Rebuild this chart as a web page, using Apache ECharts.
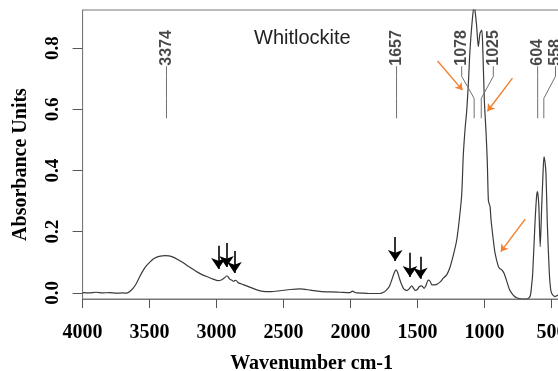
<!DOCTYPE html>
<html>
<head>
<meta charset="utf-8">
<script src="https://cdn.jsdelivr.net/npm/echarts@6/dist/echarts.min.js"></script>
<style>
  html, body { margin: 0; padding: 0; background: #fff; }
  #chart { width: 558px; height: 371px; }
</style>
</head>
<body>
<div id="chart"></div>
<script>
// FTIR absorbance spectrum of whitlockite
const wavenumbers = [
  4000, 3950, 3900, 3850, 3800, 3750, 3700, 3674, 3650, 3624, 3600, 3574, 3550, 3525, 3500,
  3475, 3450, 3420, 3387, 3355, 3325, 3290, 3251, 3215, 3176, 3140, 3101, 3060, 3027, 2988,
  2965, 2945, 2922, 2910, 2902, 2885, 2872, 2860, 2853, 2840, 2833, 2800, 2753, 2700, 2654,
  2600, 2527, 2450, 2378, 2300, 2229, 2150, 2080, 2005, 1985, 1970, 1954, 1900, 1850, 1781,
  1750, 1731, 1710, 1693, 1675, 1661, 1650, 1636, 1620, 1606, 1590, 1577, 1560, 1544, 1530,
  1519, 1500, 1487, 1469, 1452, 1440, 1420, 1407, 1395, 1383, 1357, 1333, 1308, 1283, 1258,
  1233, 1208, 1189, 1171, 1159, 1145, 1133, 1121, 1109, 1092, 1078, 1068, 1059, 1047, 1034,
  1021, 1014, 1002, 989, 980, 972, 965, 959, 952, 935, 922, 897, 885, 872, 855,
  830, 815, 798, 780, 760, 720, 686, 661, 650, 641, 624, 613, 607, 601, 595,
  585, 574, 565, 557, 550, 542, 532, 517, 508, 500, 475, 452, 420
];
const absorbance = [
  0.001, 0.000, 0.002, 0.000, 0.001, -0.001, 0.000, -0.001, 0.004, 0.015, 0.030, 0.053, 0.072, 0.088, 0.100,
  0.110, 0.116, 0.120, 0.122, 0.121, 0.117, 0.109, 0.099, 0.088, 0.077, 0.067, 0.058, 0.051, 0.045, 0.040,
  0.042, 0.048, 0.056, 0.050, 0.045, 0.041, 0.038, 0.041, 0.040, 0.034, 0.032, 0.027, 0.019, 0.010, 0.005,
  0.004, 0.007, 0.011, 0.013, 0.009, 0.005, 0.003, 0.002, 0.001, 0.006, 0.002, 0.000, -0.001, -0.002, -0.002,
  0.003, 0.010, 0.022, 0.042, 0.065, 0.075, 0.068, 0.048, 0.028, 0.015, 0.009, 0.008, 0.015, 0.023, 0.015,
  0.008, 0.012, 0.021, 0.023, 0.015, 0.022, 0.042, 0.038, 0.027, 0.026, 0.028, 0.035, 0.048, 0.059, 0.084,
  0.124, 0.173, 0.239, 0.320, 0.450, 0.540, 0.598, 0.686, 0.794, 0.892, 0.940, 0.910, 0.870, 0.805, 0.849,
  0.859, 0.805, 0.631, 0.523, 0.430, 0.304, 0.290, 0.282, 0.239, 0.173, 0.130, 0.086, 0.079, 0.075, 0.064,
  0.032, 0.012, -0.001, -0.010, -0.016, -0.020, -0.020, -0.012, 0.020, 0.064, 0.228, 0.310, 0.331, 0.320, 0.282,
  0.151, 0.282, 0.380, 0.445, 0.430, 0.391, 0.228, 0.064, 0.015, -0.001, -0.012, -0.007, -0.005
];

// tick labels
const yTickValues = [0, 0.2, 0.4, 0.6, 0.8];

// assigned band positions (cm-1) and the wavenumber where each label is written
const peakBands = [3374, 1657, 1078, 1025, 604, 558];
const peakLabelAt = [3374, 1657, 1171, 935, 604, 471];

// arrows: [from wavenumber, from absorbance, to wavenumber, to absorbance]
const blackArrows = [
  [2986, 0.154, 2986, 0.078],
  [2926, 0.163, 2926, 0.085],
  [2867, 0.137, 2867, 0.065],
  [1667, 0.183, 1667, 0.104],
  [1557, 0.131, 1557, 0.052],
  [1480, 0.118, 1480, 0.046]
];
const orangeArrows = [
  [1351, 0.758, 1165, 0.663],
  [792, 0.702, 979, 0.594],
  [697, 0.241, 879, 0.135]
];

// leader line heights (absorbance units) from label foot down to band marker
const leaderLevels = { top: 0.741, knee1: 0.708, knee2: 0.636, bottom: 0.571 };

const serif = '"Liberation Serif", "Times New Roman", serif';
const sans = '"Liberation Sans", Arial, sans-serif';

const spectrum = wavenumbers.map((w, i) => [w, absorbance[i]]);

const leaderSeries = peakBands.map((band, i) => ({
  type: 'line',
  silent: true,
  symbol: 'none',
  lineStyle: { color: '#707070', width: 1 },
  data: [
    [peakLabelAt[i], leaderLevels.top],
    [peakLabelAt[i], leaderLevels.knee1],
    [band, leaderLevels.knee2],
    [band, leaderLevels.bottom]
  ],
  z: 3
}));

const labelSeries = {
  type: 'scatter',
  silent: true,
  symbolSize: 1,
  itemStyle: { color: 'rgba(0,0,0,0)' },
  data: peakBands.map((band, i) => ({ value: [peakLabelAt[i], leaderLevels.top], name: String(band) })),
  label: {
    show: true,
    position: 'top',
    distance: 0,
    rotate: 90,
    align: 'left',
    verticalAlign: 'middle',
    formatter: p => p.name,
    fontFamily: sans,
    fontSize: 16,
    fontWeight: 'bold',
    color: '#1a1a1a'
  },
  z: 4
};

const arrowLine = (a, color, width, size) => [
  { coord: [a[0], a[1]], symbol: 'none', lineStyle: { color, width, type: 'solid' } },
  { coord: [a[2], a[3]], symbol: 'arrow', symbolSize: size }
];

const option = {
  animation: false,
  backgroundColor: '#fff',
  title: {
    text: 'Whitlockite',
    left: 249,
    top: 23,
    textStyle: { fontFamily: sans, fontSize: 20, fontWeight: 'normal', color: '#222' }
  },
  grid: {
    left: 82.6,
    right: -60.6,
    top: 10,
    bottom: 72,
    outerBoundsMode: 'none',
    containLabel: false,
    show: true,
    borderColor: '#777',
    borderWidth: 1
  },
  xAxis: {
    type: 'value',
    min: 0,
    max: 4000,
    interval: 500,
    inverse: true,
    name: 'Wavenumber cm-1',
    nameLocation: 'middle',
    nameGap: 55,
    nameTextStyle: { fontFamily: serif, fontSize: 20, fontWeight: 'bold', color: '#000', padding: [0, 78, 0, 0] },
    axisLine: { show: true, onZero: false, lineStyle: { color: '#777', width: 1 } },
    axisTick: { show: true, length: 9, lineStyle: { color: '#555' } },
    axisLabel: { formatter: v => String(v), fontFamily: serif, fontSize: 20, fontWeight: 'bold', color: '#000', margin: 24 },
    splitLine: { show: false }
  },
  yAxis: {
    type: 'value',
    min: -0.02,
    max: 0.925,
    name: 'Absorbance Units',
    nameLocation: 'middle',
    nameGap: 52,
    nameTextStyle: { fontFamily: serif, fontSize: 20, fontWeight: 'bold', color: '#000', padding: [0, 20, 0, 0] },
    axisLine: { show: true, onZero: false, lineStyle: { color: '#777', width: 1 } },
    axisTick: { show: true, length: 10, customValues: yTickValues, lineStyle: { color: '#555' } },
    axisLabel: {
      customValues: yTickValues,
      formatter: v => v.toFixed(1),
      rotate: 90,
      margin: 20,
      fontFamily: serif, fontSize: 19, fontWeight: 'bold', color: '#000'
    },
    splitLine: { show: false }
  },
  series: [
    {
      type: 'line',
      name: 'Whitlockite',
      data: spectrum,
      symbol: 'none',
      clip: true,
      smooth: 0.25,
      lineStyle: { color: '#3a3a3a', width: 1.2 },
      z: 2,
      markLine: {
        silent: true,
        animation: false,
        label: { show: false },
        data: [
          ...blackArrows.map(a => arrowLine(a, '#000', 1.6, 11)),
          ...orangeArrows.map(a => arrowLine(a, '#f2802e', 1.4, 7))
        ]
      }
    },
    ...leaderSeries,
    labelSeries
  ]
};

const chart = echarts.init(document.getElementById('chart'), null, { renderer: 'canvas' });
chart.setOption(option);
</script>
</body>
</html>
